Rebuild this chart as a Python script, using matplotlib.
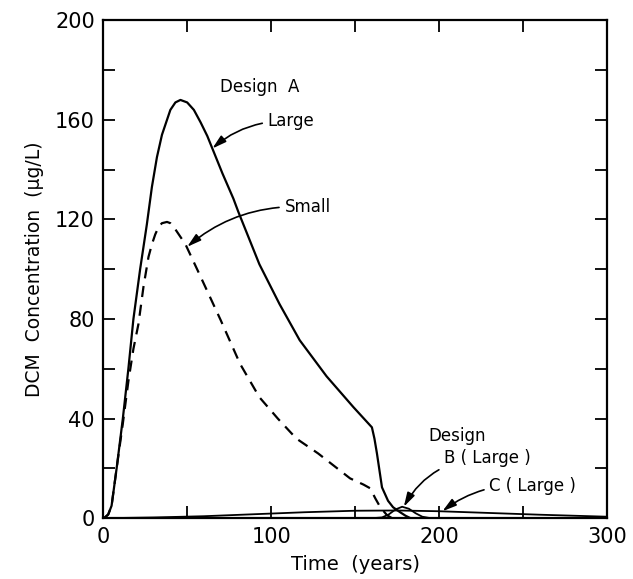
import numpy as np
import matplotlib.pyplot as plt
from matplotlib.ticker import MultipleLocator

plt.rcParams['font.family'] = 'DejaVu Sans'

# Design A, large source (solid)
t_large = [0, 1, 3, 5, 8, 11.7, 15, 18, 22, 26, 29, 32, 35, 40, 43, 46, 50, 54, 58,
           62, 65, 71, 77.5, 80.5, 93, 105, 117, 133, 149, 160, 161.5, 163, 166, 169.6,
           172.6, 176.8, 180, 183]
c_large = [0, 0.3, 1.5, 5, 20, 40, 60, 80, 100, 118, 133, 145, 154, 164, 167, 168, 167, 164, 159,
           153.5, 148.5, 138.5, 128.4, 123, 102, 86, 71.5, 57, 44.6, 36.5, 32, 26, 12.4, 7,
           4.4, 2.4, 1, 0]

# Design A, small source (dashed)
t_small = [0, 1, 3, 5, 8, 11.7, 15, 18, 21, 24, 27, 29, 31, 33, 35, 38, 40, 42, 45, 49,
           58, 70, 81.5, 93, 104, 115, 128, 147, 155, 159, 162, 165, 169, 172]
c_small = [0, 0.3, 1.5, 5, 20, 38, 55, 68, 78, 93, 105, 110, 114, 117, 118.5, 119, 118.5, 117, 114, 110,
           97, 79.5, 62, 48.6, 40, 32, 26, 16, 13.5, 12, 8, 4.4, 1.2, 0]

# Design B, large source
t_b = [160, 166, 170, 174, 178, 182, 186, 190, 195]
c_b = [0, 0.3, 1.5, 3.5, 4.6, 3.8, 2, 0.6, 0]

# Design C, large source
t_c = [0, 30, 60, 90, 120, 150, 175, 200, 230, 260, 300]
c_c = [0, 0.3, 0.8, 1.6, 2.4, 3, 3.1, 2.8, 2.1, 1.4, 0.6]

fig = plt.figure(figsize=(6.33, 5.79), dpi=100)
ax = fig.add_axes([0.163, 0.105, 0.796, 0.86])

lw = 1.6
ax.plot(t_large, c_large, color='black', lw=lw, solid_joinstyle='round')
ax.plot(t_small, c_small, color='black', lw=lw, ls=(0, (5, 3.5)))
ax.plot(t_b, c_b, color='black', lw=1.3)
ax.plot(t_c, c_c, color='black', lw=1.3)

ax.set_xlim(0, 300)
ax.set_ylim(0, 200)
ax.xaxis.set_major_locator(MultipleLocator(100))
ax.xaxis.set_minor_locator(MultipleLocator(50))
ax.yaxis.set_major_locator(MultipleLocator(40))
ax.yaxis.set_minor_locator(MultipleLocator(20))
ax.tick_params(which='both', direction='in', top=True, right=True,
               length=8.5, width=1.3, labelsize=15, pad=6)
for s in ax.spines.values():
    s.set_linewidth(1.6)

ax.set_xlabel('Time  (years)', fontsize=14, labelpad=6)
ax.set_ylabel('DCM  Concentration  (µg/L)', fontsize=13.5, labelpad=8)

arrow = dict(arrowstyle='-|>,head_length=0.7,head_width=0.2', color='black',
             lw=1.2, mutation_scale=12, shrinkA=2, shrinkB=0)
ax.text(93, 173, 'Design  A', fontsize=12, ha='center', va='center')
ax.annotate('Large', xy=(65, 148.5), xytext=(98, 159.5), fontsize=12,
            ha='left', va='center',
            arrowprops=dict(arrow, connectionstyle='arc3,rad=0.2'))
ax.annotate('Small', xy=(50, 109), xytext=(108, 125), fontsize=12,
            ha='left', va='center',
            arrowprops=dict(arrow, connectionstyle='arc3,rad=0.2'))
ax.text(211, 33, 'Design', fontsize=12, ha='center', va='center')
ax.annotate('B ( Large )', xy=(179, 4.6), xytext=(203, 24), fontsize=12,
            ha='left', va='center',
            arrowprops=dict(arrow, connectionstyle='arc3,rad=0.3'))
ax.annotate('C ( Large )', xy=(202, 2.8), xytext=(230, 13), fontsize=12,
            ha='left', va='center',
            arrowprops=dict(arrow, connectionstyle='arc3,rad=0.2'))

fig.savefig('out.png', dpi=100)
